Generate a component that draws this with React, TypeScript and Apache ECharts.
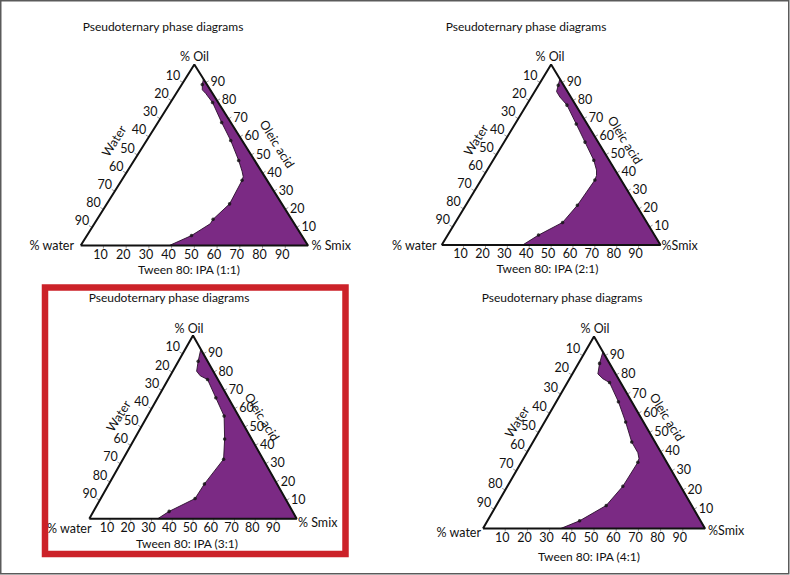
import React, { useEffect, useRef } from "react";
import * as echarts from "echarts";

// Composition values in % as [oil, smix]; water = 100 - oil - smix
const RATIOS = ["1:1", "2:1", "3:1", "4:1"];
const TICKS = [10, 20, 30, 40, 50, 60, 70, 80, 90];

const BOUNDARY_1 = [[92, 8], [89, 9], [86, 10.5], [84, 13], [79, 18.5], [68, 28], [58, 37], [47, 46], [41, 50.5], [38, 52.5], [36, 53], [23, 54], [14.5, 51], [12, 51], [5.5, 46], [0, 39]];
const POINTS_1 = [[89, 9], [79, 18.5], [68, 28], [58, 37], [47, 46], [36, 53], [23, 54], [14.5, 51], [5.5, 46]];

const BOUNDARY_2 = [[92, 8], [88.5, 9], [85, 10], [82, 13], [77.5, 18.5], [67, 28], [57, 37], [47, 46], [41.5, 50], [38.5, 51.5], [36, 52], [22, 51], [12.5, 49], [5.5, 41.5], [0, 37]];
const POINTS_2 = [[88.5, 9], [77.5, 18.5], [67, 28], [57, 37], [47, 46], [36, 52], [22, 51], [12.5, 49], [5.5, 41.5]];

const BOUNDARY_3 = [[92.5, 7.5], [86, 9.5], [80.5, 11.5], [78, 14.5], [76, 19], [66, 28], [56, 37], [43.5, 43.5], [32.5, 48.5], [19, 46], [11, 45.5], [4, 36.5], [0, 33]];
const POINTS_3 = [[86, 9.5], [76, 19], [66, 28], [56, 37], [43.5, 43.5], [32.5, 48.5], [19, 46], [11, 45.5], [4, 36.5]];

const BOUNDARY_4 = [[92, 8], [86, 9.5], [80.5, 11.5], [78, 15], [76, 19], [66, 28], [55.5, 36.5], [45, 44.5], [39.5, 50], [36.5, 52], [34.5, 52.5], [22, 52], [12, 49.5], [4, 41.5], [0, 35]];
const POINTS_4 = [[86, 9.5], [76, 19], [66, 28], [55.5, 36.5], [45, 44.5], [34.5, 52.5], [22, 52], [12, 49.5], [4, 41.5]];

const BOUNDARIES = [BOUNDARY_1, BOUNDARY_2, BOUNDARY_3, BOUNDARY_4];
const POINTS = [POINTS_1, POINTS_2, POINTS_3, POINTS_4];

// ternary [oil, smix] -> cartesian [x, y] in a 0..100 box
const toXY = (p: number[]) => [p[1] + p[0] / 2, p[0]];

const FONT_FAMILY = 'Lato, "Open Sans", sans-serif';
const TEXT = "#111111";
const PURPLE = "#7b2a84";

// layout of each panel (pixels)
const LAYOUT = [
  { grid: [80.7, 64.5, 227.3, 181], title: [163, 26], oil: [194.5, 56], water: [74, 245.5], smix: [311.5, 245.5], smixText: "% Smix", waterSide: [114, 141], oleic: [277, 144], tween: [189, 269.5] },
  { grid: [441.7, 64.5, 218.8, 180.5], title: [526, 26.5], oil: [550, 56], water: [436.5, 245], smix: [661.5, 245], smixText: "%Smix", waterSide: [476, 140], oleic: [625, 140], tween: [547.5, 268.5] },
  { grid: [89.3, 335.5, 207.4, 183.2], title: [169, 297.5], oil: [189, 328.5], water: [91.5, 528.5], smix: [298, 522], smixText: "% Smix", waterSide: [118.5, 416], oleic: [262, 417], tween: [187, 543.5] },
  { grid: [483, 336.5, 222, 192], title: [562, 297.5], oil: [595, 328.5], water: [481, 532], smix: [708, 530.5], smixText: "%Smix", waterSide: [517, 422], oleic: [667, 417], tween: [589, 556] },
];

const EDGE_LABEL_OFFSET = [[-10, -7], [12, -1], [-3, 8.5]];
const EDGE_TICK = [[-3, -1.8], [3, -1.8], [0, 3]];

export default function App() {
  const ref = useRef<HTMLDivElement>(null);

  useEffect(() => {
    if (!ref.current) return;
    const chart = echarts.init(ref.current, undefined, { renderer: "svg" });

    const grids: any[] = [];
    const xAxes: any[] = [];
    const yAxes: any[] = [];
    const series: any[] = [];
    const graphics: any[] = [];

    LAYOUT.forEach((L, i) => {
      grids.push({ left: L.grid[0], top: L.grid[1], width: L.grid[2], height: L.grid[3], containLabel: false });
      xAxes.push({ type: "value", gridIndex: i, min: 0, max: 100, show: false });
      yAxes.push({ type: "value", gridIndex: i, min: 0, max: 100, show: false });

      const boundary = BOUNDARIES[i];
      series.push({
        type: "custom",
        xAxisIndex: i,
        yAxisIndex: i,
        z: 1,
        silent: true,
        data: [[0, 0]],
        renderItem: (_p: any, api: any) => {
          const pts = boundary.map((p) => api.coord(toXY(p)));
          pts.push(api.coord(toXY([0, 100])));
          return {
            type: "polygon",
            shape: { points: pts },
            style: { fill: PURPLE, stroke: "#2a0f2c", lineWidth: 0.9 },
          };
        },
      });

      series.push({
        type: "line",
        xAxisIndex: i,
        yAxisIndex: i,
        z: 3,
        clip: false,
        silent: true,
        symbol: "none",
        lineStyle: { color: "#111", width: 2 },
        data: [toXY([0, 0]), toXY([0, 100]), toXY([100, 0]), toXY([0, 0])],
      });

      series.push({
        type: "scatter",
        xAxisIndex: i,
        yAxisIndex: i,
        z: 4,
        clip: false,
        silent: true,
        symbol: "circle",
        symbolSize: 3.5,
        itemStyle: { color: "#111" },
        data: POINTS[i].map(toXY),
      });

      const tickData: number[][] = [];
      [0, 1, 2].forEach((e) => TICKS.forEach((v) => tickData.push([e, v])));
      series.push({
        type: "custom",
        xAxisIndex: i,
        yAxisIndex: i,
        z: 2,
        silent: true,
        data: tickData,
        renderItem: (_p: any, api: any) => {
          const edge = api.value(0);
          const v = api.value(1);
          let p: number[];
          if (edge === 0) p = [100 - v, 0]; // water edge
          else if (edge === 1) p = [v, 100 - v]; // oil (oleic acid) edge
          else p = [0, v]; // smix edge
          const c = api.coord(toXY(p));
          const off = EDGE_LABEL_OFFSET[edge];
          const tk = EDGE_TICK[edge];
          return {
            type: "group",
            children: [
              {
                type: "line",
                shape: { x1: c[0], y1: c[1], x2: c[0] + tk[0], y2: c[1] + tk[1] },
                style: { stroke: "#9a9a9a", lineWidth: 1 },
              },
              {
                type: "text",
                x: c[0] + off[0],
                y: c[1] + off[1],
                style: {
                  text: String(v),
                  font: `12.5px ${FONT_FAMILY}`,
                  fill: TEXT,
                  align: "center",
                  verticalAlign: "middle",
                },
              },
            ],
          };
        },
      });

      const txt = (text: string, pos: number[], opts: any = {}) => ({
        type: "text",
        x: pos[0],
        y: pos[1],
        rotation: opts.rotation || 0,
        silent: true,
        style: {
          text,
          font: `${opts.size || 12.5}px ${FONT_FAMILY}`,
          fill: TEXT,
          align: opts.align || "center",
          verticalAlign: "middle",
        },
      });

      graphics.push(txt("Pseudoternary phase diagrams", L.title, { size: 12 }));
      graphics.push(txt("% Oil", L.oil));
      graphics.push(txt("% water", L.water, { align: "right" }));
      graphics.push(txt(L.smixText, L.smix, { align: "left" }));
      graphics.push(txt("Water", L.waterSide, { rotation: (58 * Math.PI) / 180 }));
      graphics.push(txt("Oleic acid", L.oleic, { rotation: (-58 * Math.PI) / 180 }));
      graphics.push(txt(`Tween 80: IPA (${RATIOS[i]})`, L.tween, { size: 12 }));
    });

    graphics.push({
      type: "rect",
      silent: true,
      shape: { x: 45, y: 287.5, width: 300.5, height: 266.5 },
      style: { fill: "none", stroke: "#cc2229", lineWidth: 6.5 },
    });
    graphics.push({
      type: "rect",
      silent: true,
      shape: { x: 0.75, y: 0.75, width: 788, height: 573 },
      style: { fill: "none", stroke: "#5a5a5a", lineWidth: 1.5 },
    });

    chart.setOption({
      animation: false,
      backgroundColor: "#ffffff",
      grid: grids,
      xAxis: xAxes,
      yAxis: yAxes,
      series,
      graphic: graphics,
    });

    return () => chart.dispose();
  }, []);

  return (
    <div
      ref={ref}
      style={{ position: "fixed", left: 0, top: 0, width: 790, height: 575, background: "#fff" }}
    />
  );
}
